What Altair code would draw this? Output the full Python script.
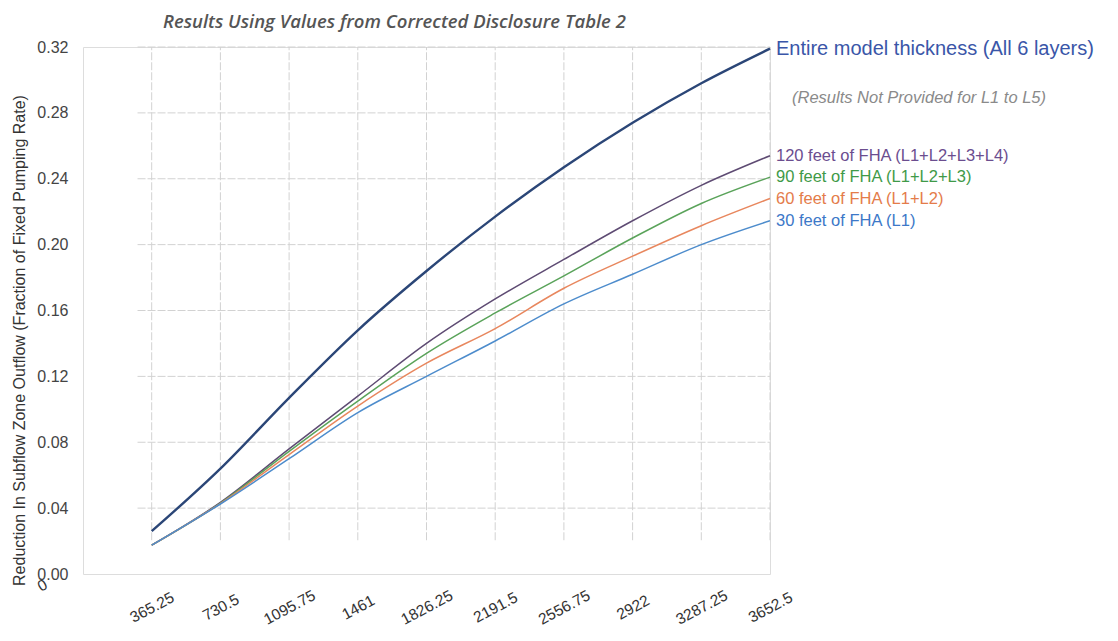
import altair as alt
import pandas as pd

# ---- data ----
days = [365.25, 730.5, 1095.75, 1461, 1826.25, 2191.5, 2556.75, 2922, 3287.25, 3652.5]
x_tick_values = [0, 365.25, 730.5, 1095.75, 1461, 1826.25, 2191.5, 2556.75, 2922, 3287.25, 3652.5]
y_tick_values = [0.0, 0.04, 0.08, 0.12, 0.16, 0.20, 0.24, 0.28, 0.32]

series_names = [
    "Entire model thickness (All 6 layers)",
    "120 feet of FHA (L1+L2+L3+L4)",
    "90 feet of FHA (L1+L2+L3)",
    "60 feet of FHA (L1+L2)",
    "30 feet of FHA (L1)",
]
entire = [0.026, 0.064, 0.107, 0.148, 0.184, 0.217, 0.247, 0.274, 0.298, 0.319]
ft120 = [0.0175, 0.0435, 0.076, 0.108, 0.140, 0.167, 0.191, 0.2145, 0.236, 0.254]
ft90 = [0.0175, 0.043, 0.0745, 0.105, 0.134, 0.1585, 0.181, 0.204, 0.225, 0.241]
ft60 = [0.0175, 0.0428, 0.0725, 0.102, 0.128, 0.149, 0.1735, 0.193, 0.2115, 0.228]
ft30 = [0.0175, 0.0425, 0.070, 0.098, 0.120, 0.1415, 0.164, 0.182, 0.200, 0.2145]
series_values = [entire, ft120, ft90, ft60, ft30]

line_colors = ["#2b4677", "#5e4b73", "#5aa35a", "#e8875e", "#4d8ccc"]
line_widths = [2.4, 1.5, 1.5, 1.5, 1.5]
label_colors = ["#3a56a8", "#6b4d8f", "#3f9a48", "#e47c4a", "#3c78c8"]
label_sizes = [20, 16.5, 16.5, 16.5, 16.5]
label_dy = [-5, 0, 0, 0, 0]

note_text = ["(Results Not Provided for L1 to L5)"]
note_pos = [(3652.5, 0.289)]

title_text = "Results Using Values from Corrected Disclosure Table 2"
y_title = "Reduction In Subflow Zone Outflow (Fraction of Fixed Pumping Rate)"

grid_bottom = 0.0205
grid_left = 290

# ---- tables ----
rows = []
for name, vals, w in zip(series_names, series_values, line_widths):
    for d, v in zip(days, vals):
        rows.append({"series": name, "day": d, "value": v, "w": w})
lines_df = pd.DataFrame(rows)

labels_df = pd.DataFrame({
    "series": series_names,
    "day": [days[-1]] * len(series_names),
    "value": [v[-1] for v in series_values],
    "color": label_colors,
    "fs": label_sizes,
    "dy": label_dy,
})
note_df = pd.DataFrame({"text": note_text, "day": [p[0] for p in note_pos], "value": [p[1] for p in note_pos]})

vgrid_df = pd.DataFrame({"day": days, "y0": [grid_bottom] * len(days), "y1": [0.32] * len(days)})
hgrid_df = pd.DataFrame({"value": y_tick_values[1:], "x0": [grid_left] * 8, "x1": [3652.5] * 8})

xscale = alt.Scale(domain=[0, 3652.5], nice=False, zero=False)
yscale = alt.Scale(domain=[0, 0.32], nice=False, zero=False)

x_axis = alt.Axis(
    values=x_tick_values, labelExpr="toString(datum.value)", title=None,
    grid=False, domain=False, ticks=False, tickSize=0,
    labelAngle=332, labelAlign="center", labelBaseline="middle",
    labelPadding={"condition": {"test": "datum.value === 0", "value": 11}, "value": 33},
    labelOffset={"condition": {"test": "datum.value === 0", "value": -41}, "value": 0},
    labelFont="Liberation Sans", labelFontSize=15.5, labelColor="#333333",
    labelOverlap=False, labelFlush=False, labelBound=False,
)
y_axis = alt.Axis(
    values=y_tick_values, format=".2f", title=y_title,
    grid=False, domain=False, ticks=False, tickSize=0,
    labelPadding=15, labelFont="Liberation Sans", labelFontSize=16, labelColor="#444444",
    titleFont="Liberation Sans", titleFontSize=16, titleFontWeight="normal", titleColor="#333333",
    titleAngle=270, titleAlign="center", titleBaseline="middle", titleX=-64, titleY=293,
)

vgrid = alt.Chart(vgrid_df).mark_rule(color="#d2d2d2", strokeWidth=1, strokeDash=[8, 2]).encode(
    x=alt.X("day:Q", scale=xscale, axis=x_axis),
    y=alt.Y("y0:Q", scale=yscale, axis=y_axis),
    y2="y1:Q",
)
hgrid = alt.Chart(hgrid_df).mark_rule(color="#d2d2d2", strokeWidth=1, strokeDash=[8, 2]).encode(
    x=alt.X("x0:Q", scale=xscale),
    x2="x1:Q",
    y=alt.Y("value:Q", scale=yscale),
)

lines = alt.Chart(lines_df).mark_line(interpolate="monotone").encode(
    x=alt.X("day:Q", scale=xscale),
    y=alt.Y("value:Q", scale=yscale),
    color=alt.Color("series:N", scale=alt.Scale(domain=series_names, range=line_colors), legend=None),
    strokeWidth=alt.StrokeWidth("w:Q", scale=None),
    order=alt.Order("day:Q"),
)

labels = alt.Chart(labels_df).mark_text(align="left", baseline="middle", dx=6, font="Liberation Sans").encode(
    x=alt.X("day:Q", scale=xscale),
    y=alt.Y("value:Q", scale=yscale),
    yOffset=alt.YOffset("dy:Q", scale=None),
    text="series:N",
    color=alt.Color("color:N", scale=None),
    size=alt.Size("fs:Q", scale=None),
)

note = alt.Chart(note_df).mark_text(
    align="left", baseline="middle", dx=22, font="Liberation Sans", fontSize=16.5,
    fontStyle="italic", color="#8a8a8a",
).encode(
    x=alt.X("day:Q", scale=xscale),
    y=alt.Y("value:Q", scale=yscale),
    text="text:N",
)

chart = alt.layer(vgrid, hgrid, lines, labels, note).properties(
    width=687,
    height=527,
    padding={"left": 75, "top": 39, "right": 338, "bottom": 55},
    autosize=alt.AutoSizeParams(type="none"),
    title=alt.TitleParams(
        title_text, anchor="start", frame="group", dx=80, dy=27, offset=19, baseline="alphabetic",
        font="Open Sans", fontSize=18.5, fontStyle="italic", fontWeight=600, color="#555555",
    ),
).configure_view(stroke=None).configure(background="white")

chart.save("out.html", embed_options={"renderer": "svg", "actions": False})
